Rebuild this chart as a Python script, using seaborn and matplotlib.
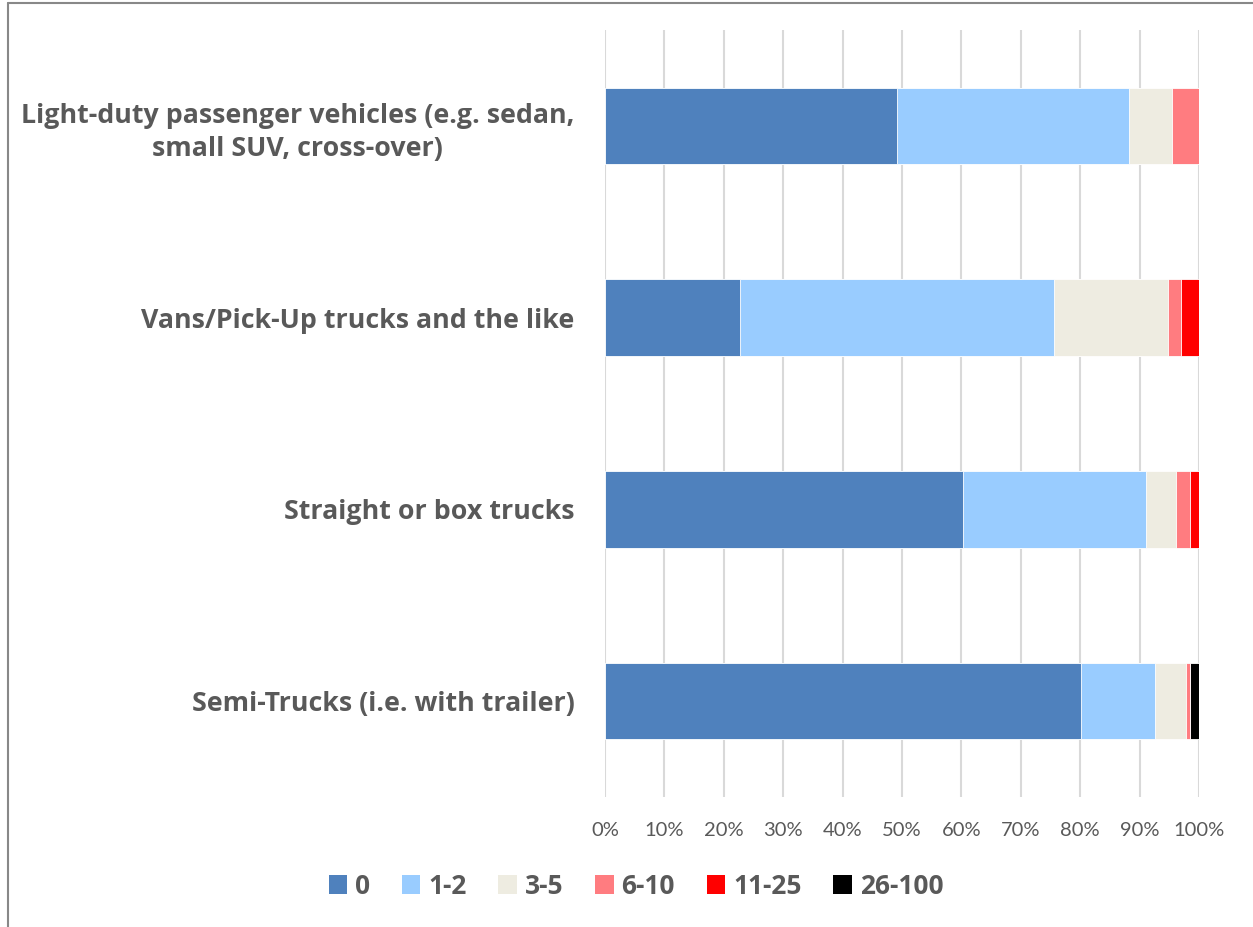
import matplotlib
matplotlib.use("Agg")
import matplotlib.pyplot as plt
import matplotlib.ticker as mtick
from matplotlib.patches import Patch
from matplotlib.lines import Line2D
import numpy as np
import pandas as pd
import seaborn as sns

# data (share of respondents, %)
vehicles = [
    "Light-duty passenger vehicles (e.g. sedan,\nsmall SUV, cross-over)",
    "Vans/Pick-Up trucks and the like",
    "Straight or box trucks",
    "Semi-Trucks (i.e. with trailer)",
]
bins = ["0", "1-2", "3-5", "6-10", "11-25", "26-100"]
share_0 = [49.2, 22.7, 60.2, 80.1]
share_1_2 = [39.0, 52.9, 30.9, 12.5]
share_3_5 = [7.3, 19.2, 5.1, 5.2]
share_6_10 = [4.5, 2.2, 2.3, 0.7]
share_11_25 = [0.0, 3.0, 1.5, 0.0]
share_26_100 = [0.0, 0.0, 0.0, 1.5]
colors = ["#4F81BD", "#99CCFF", "#EEECE1", "#FF7C80", "#FF0000", "#000000"]

df = pd.DataFrame(
    np.array([share_0, share_1_2, share_3_5, share_6_10, share_11_25, share_26_100]).T / 100,
    columns=bins,
)
cum = df.cumsum(axis=1)
cum["vehicle"] = vehicles

sns.set_style("white")
plt.rcParams["font.family"] = ["Lato", "DejaVu Sans"]
grey = "#595959"
bold_font = {"family": ["Open Sans", "DejaVu Sans"], "weight": "bold"}

fig = plt.figure(figsize=(12.53, 9.27), dpi=100)
ax = fig.add_axes([605 / 1253, 1 - 797 / 927, 594 / 1253, 767 / 927])

# stacked bars: draw cumulative totals from the outside in
for b, c in reversed(list(zip(bins, colors))):
    sns.barplot(data=cum, x=b, y="vehicle", orient="h", color=c, width=0.4,
                saturation=1, edgecolor="white", linewidth=0.6, ax=ax, zorder=2)

ax.set_xlim(0, 1)
ax.xaxis.set_major_locator(mtick.MultipleLocator(0.1))
ax.xaxis.set_major_formatter(mtick.PercentFormatter(1.0, decimals=0))
ax.grid(axis="x", color="#D9D9D9", linewidth=1.5, zorder=0)
ax.set_axisbelow(True)
for s in ax.spines.values():
    s.set_visible(False)
ax.set_xlabel("")
ax.set_ylabel("")
ax.tick_params(axis="x", length=0, pad=18, labelsize=14.5, labelcolor=grey)
ax.tick_params(axis="y", length=0, pad=22)
ax.set_yticks(range(len(vehicles)))
ax.set_yticklabels(vehicles, fontdict=bold_font, fontsize=19.3, color=grey,
                   multialignment="center", linespacing=1.38)

handles = [Patch(facecolor=c, edgecolor="none", label=b) for b, c in zip(bins, colors)]
leg = fig.legend(handles=handles, loc="center", bbox_to_anchor=(636 / 1253, 1 - 886 / 927),
                 ncol=6, frameon=False, handlelength=0.7, handleheight=0.7,
                 handletextpad=0.3, columnspacing=1.2,
                 prop={**bold_font, "size": 19})
for t in leg.get_texts():
    t.set_color(grey)

# chart border (cropped at right and bottom)
fig.add_artist(Line2D([8 / 1253, 8 / 1253], [0, 1 - 3 / 927], transform=fig.transFigure,
                      color="#888888", linewidth=1.5))
fig.add_artist(Line2D([8 / 1253, 1], [1 - 3 / 927, 1 - 3 / 927], transform=fig.transFigure,
                      color="#888888", linewidth=1.5))

fig.savefig("out.png", dpi=100)
